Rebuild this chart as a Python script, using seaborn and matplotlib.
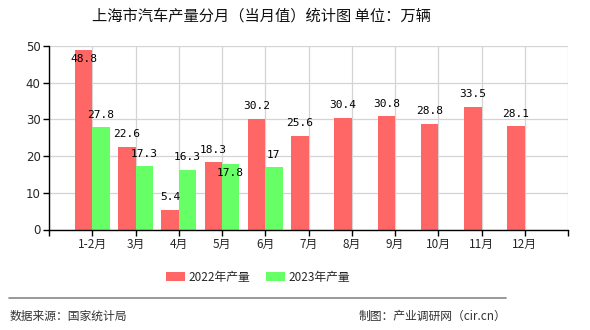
import numpy as np
import pandas as pd
import seaborn as sns
import matplotlib
matplotlib.use("Agg")
import matplotlib.pyplot as plt
from matplotlib.patches import Patch
from matplotlib.lines import Line2D

months = ["1-2月", "3月", "4月", "5月", "6月", "7月", "8月", "9月", "10月", "11月", "12月"]
output_2022 = [48.8, 22.6, 5.4, 18.3, 30.2, 25.6, 30.4, 30.8, 28.8, 33.5, 28.1]
output_2023 = [27.8, 17.3, 16.3, 17.8, 17, None, None, None, None, None, None]
series_names = ["2022年产量", "2023年产量"]
y_ticks = [0, 10, 20, 30, 40, 50]

RED = "#ff6666"
GREEN = "#66ff66"

sns.set_theme(style="white")
plt.rcParams["font.family"] = ["Noto Sans CJK SC", "DejaVu Sans"]

rows = []
for m, a, b in zip(months, output_2022, output_2023):
    rows.append({"month": m, "series": series_names[0], "value": a})
    rows.append({"month": m, "series": series_names[1], "value": b})
df = pd.DataFrame(rows)

fig = plt.figure(figsize=(5.9, 3.3), dpi=100)
ax = fig.add_axes([49 / 590, 1 - 229.5 / 330, 519 / 590, 183.5 / 330])

sns.barplot(data=df, x="month", y="value", hue="series", order=months,
            hue_order=series_names, palette=[RED, GREEN], width=0.8,
            saturation=1, dodge=True, legend=False, ax=ax, zorder=2,
            linewidth=0, edgecolor="none")

ax.set_xlim(-1, len(months))
ax.set_ylim(0, 50)
ax.set_xticks(range(-1, len(months) + 1))
ax.set_xticklabels([""] + months + [""], fontsize=8.5)
ax.set_yticks(y_ticks)
ax.set_yticklabels([str(t) for t in y_ticks], fontsize=8.5, family="DejaVu Sans")
ax.set_xlabel("")
ax.set_ylabel("")
ax.grid(True, color="#d4d4d4", linewidth=0.9, zorder=0)
ax.set_axisbelow(True)
for s in ["top", "right"]:
    ax.spines[s].set_visible(False)
for s in ["left", "bottom"]:
    ax.spines[s].set_color("black")
    ax.spines[s].set_linewidth(1.0)
ax.tick_params(axis="both", which="both", length=4, width=1, color="black",
               direction="out", pad=2, left=True, bottom=True)

# value labels above bars
label_font = dict(fontsize=8, family="DejaVu Sans Mono", color="black",
                  ha="center", va="center", zorder=5)
lift = 3.4
for i, (a, b) in enumerate(zip(output_2022, output_2023)):
    ya = min(a + lift, 46.5)
    ax.text(i - 0.2, ya, f"{a:g}", **label_font)
    if b is not None:
        yb = b + lift
        if abs(yb - ya) < 3.5:
            yb = b - 2.3
        ax.text(i + 0.2, yb, f"{b:g}", **label_font)

fig.text(261 / 590, 1 - 16 / 330, "上海市汽车产量分月（当月值）统计图 单位：万辆",
         ha="center", va="center", fontsize=11, color="#111111")

handles = [Patch(facecolor=RED, edgecolor="none"), Patch(facecolor=GREEN, edgecolor="none")]
fig.legend(handles, series_names, loc="center", bbox_to_anchor=(258 / 590, 1 - 277 / 330),
           ncol=2, frameon=False, fontsize=8.5, handlelength=1.6, handleheight=0.7,
           handletextpad=0.3, columnspacing=1.3)

fig.add_artist(Line2D([9 / 590, 506 / 590], [1 - 298 / 330, 1 - 298 / 330],
                      color="#888888", linewidth=1.2))
fig.text(10 / 590, 1 - 316 / 330, "数据来源：国家统计局", ha="left", va="center",
         fontsize=8.5, color="#333333")
fig.text(506 / 590, 1 - 316 / 330, "制图：产业调研网（cir.cn）", ha="right", va="center",
         fontsize=8.5, color="#333333")

fig.savefig("out.png", dpi=100)
